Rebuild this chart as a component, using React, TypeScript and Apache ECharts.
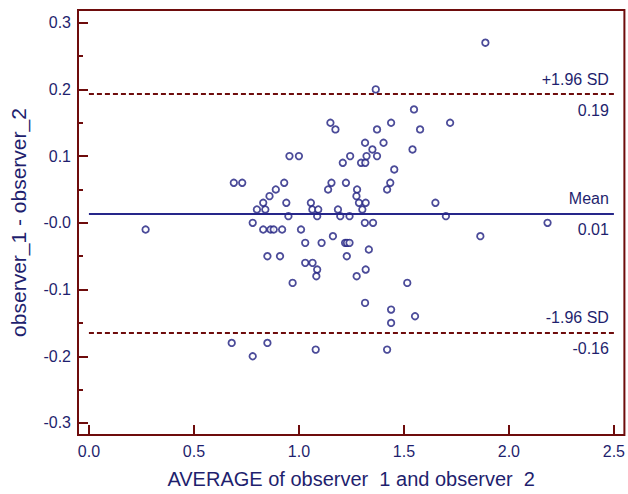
import React, { useEffect, useRef } from "react";
import * as echarts from "echarts";

// Average of observer 1 and observer 2 (x)
const avgValues = [
  0.27, 0.69, 0.73, 0.68, 0.78, 0.85, 1.08, 1.42, 0.78, 0.80,
  0.83, 0.84, 0.86, 0.89, 0.93, 0.94, 0.95, 0.83, 0.865, 0.88,
  0.92, 0.85, 0.91, 0.97, 0.955, 1.00, 1.01, 1.03, 1.03, 1.065,
  1.087, 1.083, 1.057, 1.064, 1.092, 1.087, 1.108, 1.139, 1.155, 1.15,
  1.174, 1.162, 1.186, 1.197, 1.209, 1.224, 1.244, 1.241, 1.22, 1.229,
  1.241, 1.228, 1.275, 1.277, 1.274, 1.286, 1.302, 1.318, 1.296, 1.316,
  1.315, 1.322, 1.35, 1.372, 1.372, 1.366, 1.314, 1.353, 1.333, 1.318,
  1.315, 1.403, 1.439, 1.42, 1.435, 1.454, 1.439, 1.439, 1.516, 1.553,
  1.541, 1.548, 1.577, 1.65, 1.70, 1.72, 1.864, 1.888, 2.184,
];
// Difference observer_1 - observer_2 (y)
const diffValues = [
  -0.01, 0.06, 0.06, -0.18, -0.20, -0.18, -0.19, -0.19, 0.00, 0.02,
  0.03, 0.02, 0.04, 0.05, 0.06, 0.03, 0.01, -0.01, -0.01, -0.01,
  -0.01, -0.05, -0.05, -0.09, 0.10, 0.10, -0.01, -0.03, -0.06, -0.06,
  -0.07, -0.08, 0.03, 0.02, 0.02, 0.01, -0.03, 0.05, 0.06, 0.15,
  0.14, -0.02, 0.02, 0.01, 0.09, 0.06, 0.10, 0.01, -0.03, -0.03,
  -0.03, -0.05, -0.08, 0.05, 0.04, 0.03, 0.02, 0.03, 0.09, 0.09,
  0.12, 0.10, 0.11, 0.10, 0.14, 0.20, 0.00, 0.00, -0.04, -0.07,
  -0.12, 0.12, 0.15, 0.05, 0.06, 0.08, -0.13, -0.15, -0.09, -0.14,
  0.11, 0.17, 0.14, 0.03, 0.01, 0.15, -0.02, 0.27, 0.00,
];

const meanDiff = 0.014;
const upperLimit = 0.193;
const lowerLimit = -0.164;
const limitLabels = ["+1.96 SD", "Mean", "-1.96 SD"];

const xTickValues = [0, 0.5, 1.0, 1.5, 2.0, 2.5];
const xTickLabels = ["0.0", "0.5", "1.0", "1.5", "2.0", "2.5"];
const yTickValues = [-0.3, -0.2, -0.1, 0, 0.1, 0.2, 0.3];
const yTickLabels = ["-0.3", "-0.2", "-0.1", "-0.0", "0.1", "0.2", "0.3"];
const yMinorTickValues = [-0.25, -0.15, -0.05, 0.05, 0.15, 0.25];

const NAVY = "#1f1f6e";
const MARK = "#1e1e80";
const DARKRED = "#6e0c0c";
const FONT = "Liberation Sans, Arial, sans-serif";

export default function App() {
  const ref = useRef<HTMLDivElement>(null);
  useEffect(() => {
    if (!ref.current) return;
    const chart = echarts.init(ref.current, undefined, { renderer: "svg" });
    const points = avgValues.map((x, i) => [x, diffValues[i]]);

    const lineLevel = (
      value: number,
      name: string,
      color: string,
      type: any
    ) => [
      [
        {
          coord: [0, value],
          lineStyle: { color, width: 2, type },
          label: {
            show: true,
            position: "insideEndTop",
            distance: [5, 7],
            formatter: name,
            color: NAVY,
            fontSize: 16,
            fontFamily: FONT,
          },
        },
        { coord: [2.5, value] },
      ],
      [
        {
          coord: [0, value],
          lineStyle: { color: "rgba(0,0,0,0)", width: 0 },
          label: {
            show: true,
            position: "insideEndBottom",
            distance: [5, 8],
            formatter: value.toFixed(2),
            color: NAVY,
            fontSize: 16,
            fontFamily: FONT,
          },
        },
        { coord: [2.5, value] },
      ],
    ];

    chart.setOption({
      animation: false,
      grid: {
        left: 77,
        right: 2.5,
        top: 10,
        bottom: 57,
        show: true,
        borderColor: DARKRED,
        borderWidth: 2,
        backgroundColor: "transparent",
      },
      xAxis: {
        type: "value",
        min: -0.052,
        max: 2.55,
        name: "AVERAGE of observer  1 and observer  2",
        nameLocation: "middle",
        nameGap: 34,
        nameTextStyle: { color: NAVY, fontSize: 20, fontFamily: FONT },
        axisLine: { show: false, onZero: false },
        splitLine: { show: false },
        axisTick: {
          show: true,
          inside: true,
          length: 10,
          customValues: xTickValues,
          lineStyle: { color: DARKRED, width: 2 },
        },
        axisLabel: {
          customValues: xTickValues,
          margin: 8,
          color: NAVY,
          fontSize: 16,
          fontFamily: FONT,
          formatter: (v: number) => {
            const i = xTickValues.findIndex((t) => Math.abs(t - v) < 1e-9);
            return i >= 0 ? xTickLabels[i] : "";
          },
        },
      },
      yAxis: [
        {
          type: "value",
          position: "left",
          min: -0.318,
          max: 0.319,
          name: "observer_1 - observer_2",
          nameLocation: "middle",
          nameGap: 49,
          nameTextStyle: { color: NAVY, fontSize: 21, fontFamily: FONT },
          axisLine: { show: false, onZero: false },
          splitLine: { show: false },
          axisTick: {
            show: true,
            inside: true,
            length: 10,
            customValues: yTickValues,
            lineStyle: { color: DARKRED, width: 2 },
          },
          axisLabel: {
            customValues: yTickValues,
            margin: 7,
            color: NAVY,
            fontSize: 16,
            fontFamily: FONT,
            formatter: (v: number) => {
              const i = yTickValues.findIndex((t) => Math.abs(t - v) < 1e-9);
              return i >= 0 ? yTickLabels[i] : "";
            },
          },
        },
        {
          type: "value",
          position: "left",
          min: -0.318,
          max: 0.319,
          axisLine: { show: false, onZero: false },
          splitLine: { show: false },
          axisLabel: { show: false },
          axisTick: {
            show: true,
            inside: true,
            length: 5,
            customValues: yMinorTickValues,
            lineStyle: { color: DARKRED, width: 2 },
          },
        },
      ],
      series: [
        {
          type: "scatter",
          data: points,
          symbol: "circle",
          symbolSize: 6.5,
          itemStyle: { color: "#ffffff", borderColor: MARK, borderWidth: 1.8 },
          silent: true,
          markLine: {
            symbol: "none",
            silent: true,
            data: [
              ...lineLevel(upperLimit, limitLabels[0], DARKRED, [5, 3]),
              ...lineLevel(meanDiff, limitLabels[1], "#26268a", "solid"),
              ...lineLevel(lowerLimit, limitLabels[2], DARKRED, [5, 3]),
            ],
          },
        },
      ],
    });
    return () => chart.dispose();
  }, []);
  return (
    <div
      ref={ref}
      style={{ position: "fixed", left: 0, top: 0, width: 628, height: 494, background: "#fff" }}
    />
  );
}
